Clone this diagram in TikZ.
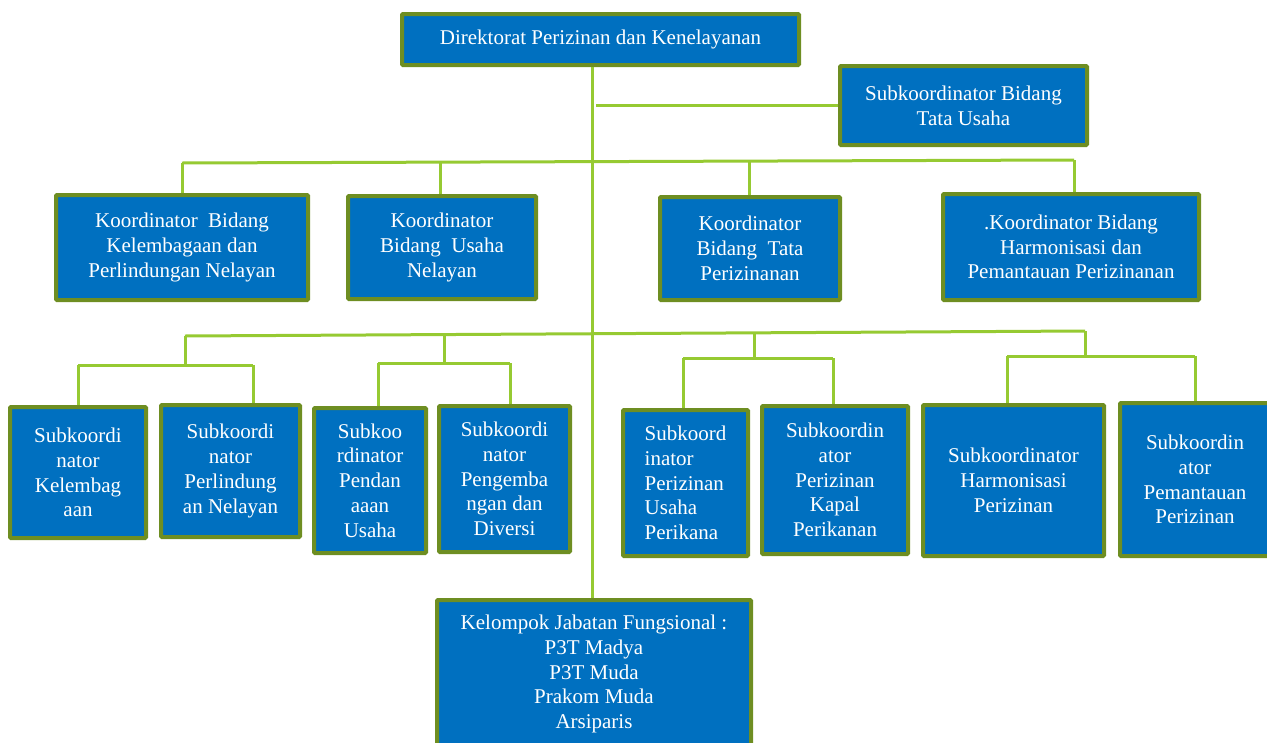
\documentclass[tikz,border=0pt]{standalone}
\usepackage{fontspec}
\setmainfont{Liberation Serif}
\definecolor{boxblue}{RGB}{0,112,192}
\definecolor{boxedge}{RGB}{110,142,34}
\definecolor{linegreen}{RGB}{150,202,50}
\tikzset{
  orgbox/.style={draw=boxedge, fill=boxblue, line width=4pt, text=white, align=center,
    inner sep=0pt, font=\fontsize{21}{24.7}\selectfont, rounded corners=1pt},
  conn/.style={draw=linegreen, line width=3pt}
}
\newcommand{\obox}[7][]{%
  \node[orgbox,#1,minimum width={#5-#3-4},minimum height={#6-#4-4}] (#2) at ({(#3+#5)/2},{(#4+#6)/2}) {#7};}
\begin{document}
\begin{tikzpicture}[x=1pt,y=-1pt]
\useasboundingbox (0,0) rectangle (1267,742);
\clip (0,0) rectangle (1267,742);
% junction coordinates
\coordinate (mx) at (592,0);
\coordinate (tl) at (182,163);
\coordinate (tr) at (1074,160);
\coordinate (ll) at (185,336);
\coordinate (lr) at (1085,331);
\coordinate (g2) at (444,335);
\coordinate (g3) at (754,333);
\coordinate (b1l) at (78,365);
\coordinate (b1r) at (253,365);
\coordinate (b2l) at (378,363);
\coordinate (b2r) at (510,363);
\coordinate (b3l) at (683,358);
\coordinate (b3r) at (833,358);
\coordinate (b4l) at (1007,356);
\coordinate (b4r) at (1195,356);
\coordinate (tuj) at (596,105);

% boxes
\obox{dir}{400}{12}{801}{67}{Direktorat Perizinan dan Kenelayanan}
\obox{tu}{838}{64}{1089}{147}{Subkoordinator Bidang\\Tata Usaha}
\obox{k1}{54}{193}{310}{302}{Koordinator\ \ Bidang\\Kelembagaan dan\\Perlindungan Nelayan}
\obox{k2}{346}{194}{538}{301}{Koordinator\\Bidang\ \ Usaha\\Nelayan}
\obox{k3}{658}{195}{842}{302}{Koordinator\\Bidang\ \ Tata\\Perizinanan}
\obox{k4}{941}{192}{1201}{302}{.Koordinator Bidang\\Harmonisasi dan\\Pemantauan Perizinanan}
\obox{s1}{8}{405}{148}{540}{Subkoordi\\nator\\Kelembag\\aan}
\obox{s2}{159}{403}{302}{539}{Subkoordi\\nator\\Perlindung\\an Nelayan}
\obox{s3}{312}{406}{428}{555}{Subkoo\\rdinator\\Pendan\\aaan\\Usaha}
\obox{s4}{437}{404}{572}{554}{Subkoordi\\nator\\Pengemba\\ngan dan\\Diversi}
\obox[align=left]{s5}{621}{408}{750}{558}{Subkoord\\inator\\Perizinan\\Usaha\\Perikana}
\obox{s6}{760}{404}{910}{556}{Subkoordin\\ator\\Perizinan\\Kapal\\Perikanan}
\obox{s7}{921}{403}{1106}{558}{Subkoordinator\\Harmonisasi\\Perizinan}
\obox{s8}{1118}{401}{1272}{558}{Subkoordin\\ator\\Pemantauan\\Perizinan}
\obox{kj}{435}{598}{753}{750}{Kelompok Jabatan Fungsional :\\P3T Madya\\P3T Muda\\Prakom Muda\\Arsiparis}

% connectors
\draw[conn] (dir.south -| mx) -- (kj.north -| mx);
\draw[conn] (tuj) -- (tu.west |- tuj);
\draw[conn] (tl) -- (tr);
\draw[conn] (tl) -- (tl |- k1.north);
\draw[conn] (k2.north -| 440,0) -- (440,162);
\draw[conn] (k3.north -| 749,0) -- (749,161);
\draw[conn] (tr) -- (tr |- k4.north);
\draw[conn] (ll) -- (lr);
\draw[conn] (ll) -- (ll |- b1l);
\draw[conn] (b1l) -- (b1r);
\draw[conn] (b1l) -- (b1l |- s1.north);
\draw[conn] (b1r) -- (b1r |- s2.north);
\draw[conn] (g2) -- (g2 |- b2l);
\draw[conn] (b2l) -- (b2r);
\draw[conn] (b2l) -- (b2l |- s3.north);
\draw[conn] (b2r) -- (b2r |- s4.north);
\draw[conn] (g3) -- (g3 |- b3l);
\draw[conn] (b3l) -- (b3r);
\draw[conn] (b3l) -- (b3l |- s5.north);
\draw[conn] (b3r) -- (b3r |- s6.north);
\draw[conn] (lr) -- (lr |- b4l);
\draw[conn] (b4l) -- (b4r);
\draw[conn] (b4l) -- (b4l |- s7.north);
\draw[conn] (b4r) -- (b4r |- s8.north);
\end{tikzpicture}
\end{document}
